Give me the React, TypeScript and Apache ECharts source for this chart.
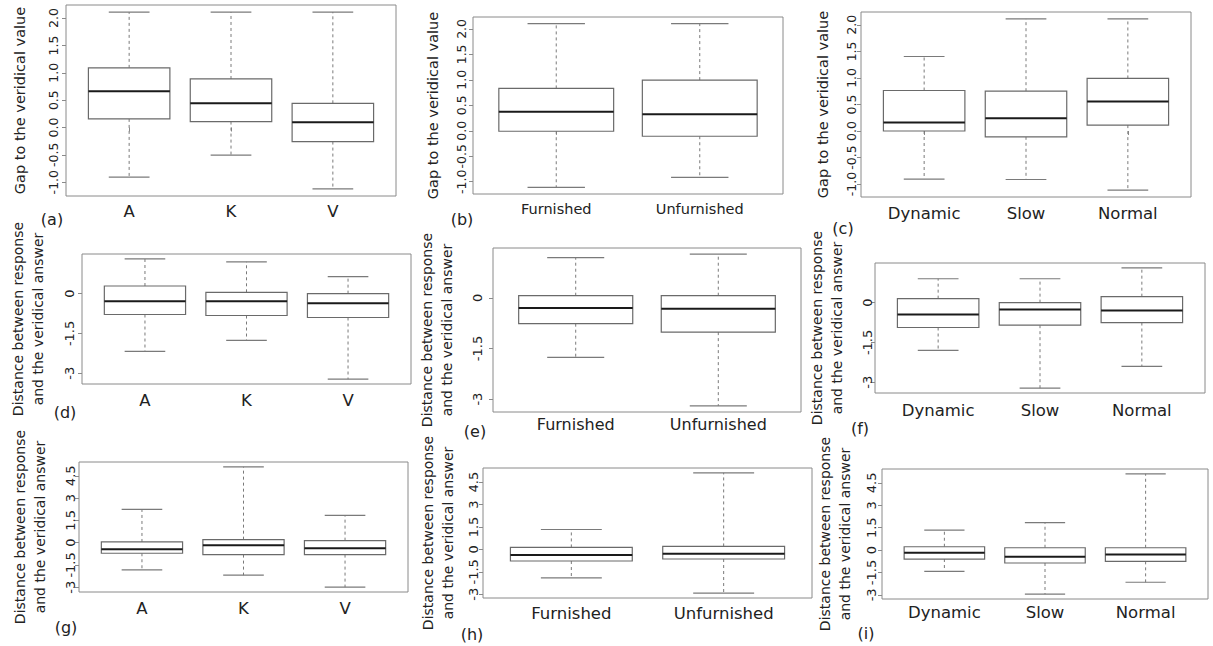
import React, { useEffect, useRef } from "react";
import * as echarts from "echarts";

const catsAKV = ["A", "K", "V"];
const catsFurn = ["Furnished", "Unfurnished"];
const catsSpeed = ["Dynamic", "Slow", "Normal"];

// five-number summaries per group: [min, Q1, median, Q3, max]
const gapAKV = [
  [-0.907, 0.157, 0.664, 1.09, 2.11],
  [-0.505, 0.108, 0.442, 0.887, 2.11],
  [-1.123, -0.257, 0.095, 0.442, 2.11],
];
const gapFurn = [
  [-1.112, -0.009, 0.372, 0.832, 2.105],
  [-0.915, -0.107, 0.326, 0.995, 2.105],
];
const gapSpeed = [
  [-0.906, 0.0, 0.161, 0.763, 1.404],
  [-0.913, -0.109, 0.242, 0.75, 2.113],
  [-1.114, 0.111, 0.556, 0.99, 2.113],
];
const distAKV = [
  [-2.175, -0.7875, -0.2875, 0.2875, 1.3125],
  [-1.7625, -0.825, -0.29, 0.05, 1.2],
  [-3.225, -0.9, -0.3625, 0.0, 0.6375],
];
const distFurn = [
  [-1.762, -0.767, -0.3, 0.062, 1.19],
  [-3.202, -1.016, -0.321, 0.062, 1.295],
];
const distSpeed = [
  [-1.8, -0.9375, -0.45, 0.15, 0.9],
  [-3.225, -0.85, -0.2625, 0.0, 0.9],
  [-2.4, -0.75, -0.3, 0.225, 1.3125],
];
const dist2AKV = [
  [-1.836, -0.716, -0.448, 0.045, 2.24],
  [-2.194, -0.806, -0.179, 0.2, 5.104],
  [-3.0, -0.806, -0.38, 0.134, 1.836],
];
const dist2Furn = [
  [-1.908, -0.777, -0.377, 0.133, 1.331],
  [-2.929, -0.643, -0.288, 0.2, 5.125],
];
const dist2Speed = [
  [-1.422, -0.6, -0.178, 0.222, 1.333],
  [-2.956, -0.867, -0.444, 0.156, 1.844],
  [-2.156, -0.756, -0.289, 0.156, 5.111],
];

const gapTicks = [-1, -0.5, 0, 0.5, 1, 1.5, 2];
const distTicks = [-3, -1.5, 0];
const dist2Ticks = [-3, -1.5, 0, 1.5, 3, 4.5];

const gapTitle = "Gap to the veridical value";
const distTitle = "Distance between response\nand the veridical answer";
const panelTags = ["(a)", "(b)", "(c)", "(d)", "(e)", "(f)", "(g)", "(h)", "(i)"];

// layout (pixels) for each panel
const panels = [
  { cats: catsAKV, stats: gapAKV, ticks: gapTicks, dec: true, title: gapTitle, left: 66, top: 5, width: 330, height: 191, lm: 6, lf: 12.5, ng: 36, xm: 7, xf: 16.5, tf: 14.5, tx: 52, ty: 219 },
  { cats: catsFurn, stats: gapFurn, ticks: gapTicks, dec: true, title: gapTitle, left: 473, top: 17, width: 310, height: 177, lm: 5.5, lf: 12.5, ng: 30, xm: 7, xf: 14.5, tf: 14.5, tx: 462, ty: 219 },
  { cats: catsSpeed, stats: gapSpeed, ticks: gapTicks, dec: true, title: gapTitle, left: 861, top: 12, width: 330, height: 185, lm: 3, lf: 12.5, ng: 28, xm: 8, xf: 16.5, tf: 14.5, tx: 843, ty: 228 },
  { cats: catsAKV, stats: distAKV, ticks: distTicks, dec: false, title: distTitle, left: 82, top: 254, width: 329, height: 130, lm: 6, lf: 13, ng: 34, xm: 8, xf: 16.5, tf: 14, tx: 65, ty: 412 },
  { cats: catsFurn, stats: distFurn, ticks: distTicks, dec: false, title: distTitle, left: 493, top: 248, width: 308, height: 164, lm: 9, lf: 13, ng: 36, xm: 4, xf: 16, tf: 14, tx: 475, ty: 431 },
  { cats: catsSpeed, stats: distSpeed, ticks: distTicks, dec: false, title: distTitle, left: 875, top: 263, width: 330, height: 130, lm: 1, lf: 13, ng: 28, xm: 9, xf: 16.5, tf: 14, tx: 860, ty: 428 },
  { cats: catsAKV, stats: dist2AKV, ticks: dist2Ticks, dec: false, title: distTitle, left: 79, top: 462, width: 329, height: 130, lm: 2, lf: 13, ng: 29, xm: 8, xf: 16.5, tf: 14, tx: 66, ty: 627 },
  { cats: catsFurn, stats: dist2Furn, ticks: dist2Ticks, dec: false, title: distTitle, left: 483, top: 468, width: 329, height: 130, lm: 3.5, lf: 13, ng: 25, xm: 7, xf: 16.5, tf: 14, tx: 472, ty: 634 },
  { cats: catsSpeed, stats: dist2Speed, ticks: dist2Ticks, dec: false, title: distTitle, left: 882, top: 469, width: 326, height: 130, lm: 4, lf: 13, ng: 27, xm: 5, xf: 16.5, tf: 14, tx: 866, ty: 633 },
];

const TEXT = "#222";
const FRAME = "#8a8a8a";
const BOXC = "#6a6a6a";
const WHISK = "#7a7a7a";

function renderBox(params: any, api: any) {
  const x = api.value(0);
  const lo = api.value(1);
  const q1 = api.value(2);
  const med = api.value(3);
  const q3 = api.value(4);
  const hi = api.value(5);
  const p = (a: number, b: number) => api.coord([a, b]);
  const c = p(x, med);
  const tl = p(x - 0.4, q3);
  const br = p(x + 0.4, q1);
  const yHi = p(x, hi)[1];
  const yLo = p(x, lo)[1];
  const capL = p(x - 0.2, hi)[0];
  const capR = p(x + 0.2, hi)[0];
  return {
    type: "group",
    children: [
      { type: "line", shape: { x1: c[0], y1: tl[1], x2: c[0], y2: yHi }, style: { stroke: WHISK, lineWidth: 1, lineDash: [3, 3] } },
      { type: "line", shape: { x1: c[0], y1: br[1], x2: c[0], y2: yLo }, style: { stroke: WHISK, lineWidth: 1, lineDash: [3, 3] } },
      { type: "line", shape: { x1: capL, y1: yHi, x2: capR, y2: yHi }, style: { stroke: WHISK, lineWidth: 1.2 } },
      { type: "line", shape: { x1: capL, y1: yLo, x2: capR, y2: yLo }, style: { stroke: WHISK, lineWidth: 1.2 } },
      { type: "rect", shape: { x: tl[0], y: tl[1], width: br[0] - tl[0], height: br[1] - tl[1] }, style: { fill: "#fff", stroke: BOXC, lineWidth: 1.2 } },
      { type: "line", shape: { x1: tl[0], y1: c[1], x2: br[0], y2: c[1] }, style: { stroke: "#1a1a1a", lineWidth: 2 } },
    ],
  };
}

export default function App() {
  const ref = useRef<HTMLDivElement>(null);
  useEffect(() => {
    document.body.style.margin = "0";
    if (!ref.current) return;
    const chart = echarts.init(ref.current, null, { renderer: "svg" });
    const grid: any[] = [];
    const xAxis: any[] = [];
    const yAxis: any[] = [];
    const series: any[] = [];
    const graphic: any[] = [];
    panels.forEach((pn, i) => {
      const n = pn.cats.length;
      const lo = Math.min(...pn.stats.map((s) => s[0]));
      const hi = Math.max(...pn.stats.map((s) => s[4]));
      const r = hi - lo;
      grid.push({ left: pn.left, top: pn.top, width: pn.width, height: pn.height, show: true, borderColor: FRAME, borderWidth: 1, backgroundColor: "#fff", containLabel: false });
      xAxis.push({
        type: "value",
        gridIndex: i,
        min: 0.5 - 0.04 * n,
        max: n + 0.5 + 0.04 * n,
        axisLine: { show: false },
        splitLine: { show: false },
        axisTick: { show: true, length: 4, lineStyle: { color: FRAME }, customValues: pn.cats.map((_, k) => k + 1) },
        axisLabel: {
          customValues: pn.cats.map((_, k) => k + 1),
          formatter: (v: number) => pn.cats[Math.round(v) - 1] ?? "",
          color: TEXT,
          fontFamily: "DejaVu Sans",
          fontSize: pn.xf,
          margin: pn.xm,
        },
      });
      yAxis.push({
        type: "value",
        gridIndex: i,
        min: lo - 0.04 * r,
        max: hi + 0.04 * r,
        axisLine: { show: false },
        splitLine: { show: false },
        axisTick: { show: true, length: 4, lineStyle: { color: FRAME }, customValues: pn.ticks },
        axisLabel: {
          customValues: pn.ticks,
          rotate: 90,
          formatter: (v: number) => (pn.dec ? v.toFixed(1) : String(v)),
          color: TEXT,
          fontFamily: "DejaVu Sans",
          fontSize: pn.lf,
          margin: pn.lm,
        },
        name: pn.title,
        nameLocation: "middle",
        nameRotate: 90,
        nameGap: pn.ng,
        nameTextStyle: { color: TEXT, fontFamily: "DejaVu Sans", fontSize: pn.tf, lineHeight: 20 },
      });
      series.push({
        type: "custom",
        xAxisIndex: i,
        yAxisIndex: i,
        renderItem: renderBox,
        encode: { x: 0, y: [1, 2, 3, 4, 5] },
        data: pn.stats.map((s, k) => [k + 1, ...s]),
        silent: true,
      });
      graphic.push({
        type: "text",
        x: pn.tx,
        y: pn.ty,
        style: { text: panelTags[i], fill: TEXT, font: "16px 'DejaVu Sans'", textAlign: "center", textVerticalAlign: "middle" },
      });
    });
    chart.setOption({
      animation: false,
      backgroundColor: "#fff",
      grid,
      xAxis,
      yAxis,
      series,
      graphic,
    });
    return () => chart.dispose();
  }, []);
  return <div ref={ref} style={{ width: 1213, height: 646 }} />;
}
